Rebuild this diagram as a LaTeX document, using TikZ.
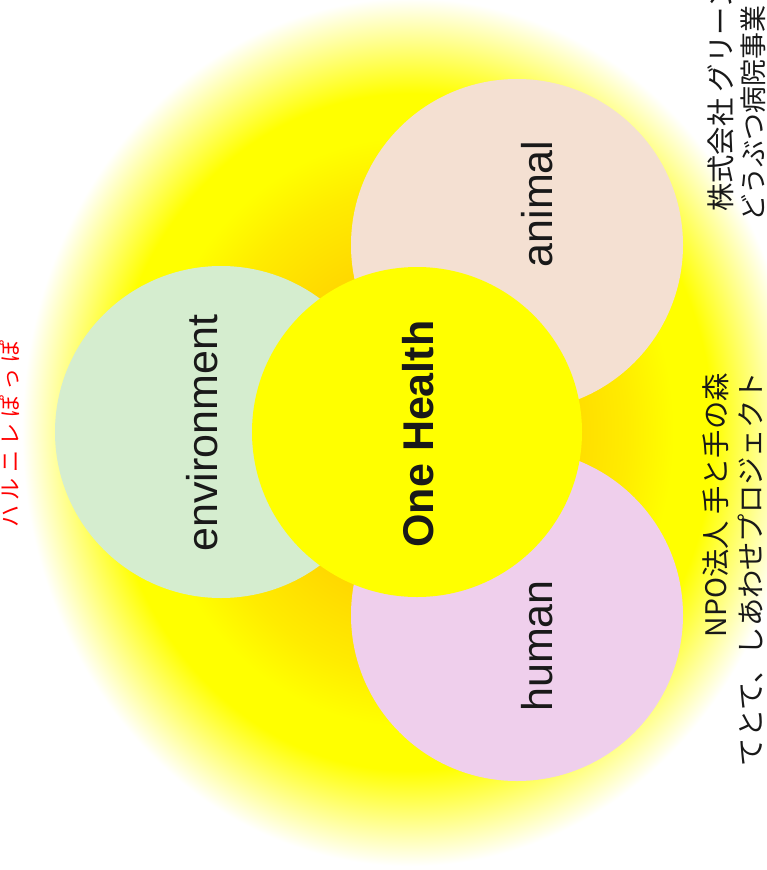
\documentclass[tikz,border=0pt]{standalone}
\usepackage{fontspec}
\setmainfont{Liberation Sans}
\newfontfamily\jpfont{Noto Sans CJK JP}
\newfontfamily\jpredfont[LetterSpace=25]{Noto Sans CJK JP}
\definecolor{gcA}{RGB}{255,202,0}
\definecolor{gcB}{RGB}{255,214,0}
\definecolor{gcC}{RGB}{255,236,0}
\definecolor{gcY}{RGB}{255,255,0}
\definecolor{gcF}{RGB}{255,255,130}
\definecolor{envc}{RGB}{213,237,207}
\definecolor{animc}{RGB}{244,224,210}
\definecolor{humc}{RGB}{239,207,236}
\definecolor{onec}{RGB}{255,255,0}
\definecolor{txt}{RGB}{25,25,25}
\pgfdeclareradialshading{glow}{\pgfpoint{0bp}{0bp}}{color(0bp)=(gcA); color(9bp)=(gcB); color(14bp)=(gcC); color(17bp)=(gcY); color(19.5bp)=(gcY); color(22.3bp)=(gcF); color(25bp)=(white); color(50bp)=(white)}
\begin{document}
\begin{tikzpicture}[x=1pt,y=-1pt,
  blob/.style={circle, inner sep=0pt, minimum size=332pt, draw=none},
  lbl/.style={rotate=90, inner sep=0pt, font=\fontsize{43}{50}\selectfont, text=txt},
  jp/.style={rotate=90, inner sep=0pt, font=\jpfont\fontsize{28.3}{32}\selectfont, text=txt},
  jpred/.style={rotate=90, inner sep=0pt, font=\jpredfont\fontsize{22}{26}\selectfont, text=red}]
\clip (0,0) rectangle (767,870);
\fill[white] (0,0) rectangle (767,870);
\shade[shading=glow] (410,432) ellipse [x radius=388, y radius=434];
% circles
\node[blob, fill=envc] (envcirc) at (221,432) {};
\node[blob, fill=animc] (animcirc) at (517,245) {};
\node[blob, fill=humc] (humcirc) at (517,615) {};
\node[blob, fill=onec, minimum size=330pt] (onecirc) at (417,432) {};
% labels
\node[lbl, anchor=base] (envlbl) at (217,433) {environment};
\node[lbl, anchor=base] (animlbl) at (552,204) {animal};
\node[lbl, anchor=base] (humlbl) at (552,646) {human};
\node[lbl, anchor=base, font=\bfseries\fontsize{43}{50}\selectfont] (onelbl) at (433,434) {One Health};
% side texts
\node[jp, anchor=base west] (gr1) at (731,212) {株式会社 グリーン};
\node[jp, anchor=base west, font=\jpfont\fontsize{27}{32}\selectfont] (gr2) at (763,222) {どうぶつ病院事業};
\node[jp, anchor=base east] (npo1) at (726,373) {NPO法人 手と手の森};
\node[jp, anchor=base east] (npo2) at (761,372) {てとて、しあわせプロジェクト};
\node[jpred, anchor=base west] (red) at (18,528) {ハルニレぽっぽ};
\end{tikzpicture}
\end{document}
